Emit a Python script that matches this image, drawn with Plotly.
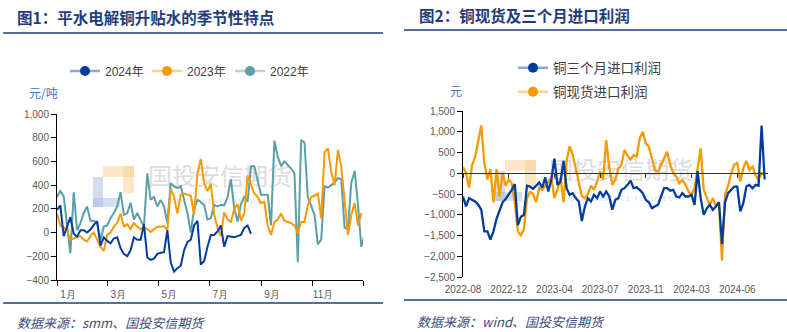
import plotly.graph_objects as go
import pandas as pd

W, H = 787, 332


def fx(x):
    return x / W


def fy(y):
    return 1 - y / H


# ---------------- Chart 1 data: 平水电解铜升贴水 (元/吨), sampled every 4 days from 1 Jan ----------------
season_start = "2000-01-01"
season_step_days = 4
month_tick_dates = ["2000-01-01", "2000-03-01", "2000-05-01", "2000-07-01",
                    "2000-09-01", "2000-11-01", "2001-01-01"]
month_tick_text = ["1月", "3月", "5月", "7月", "9月", "11月", ""]

s2024 = [190, 230, -30, 50, 130, -10, -35, 20, 20, 0,
         25, 65, 95, -110, -40, -70, -90, -50, -40, -130,
         -180, -200, -150, -40, -60, -60, 70, -210, -230, -220,
         -180, -170, -165, 20, -250, -330, -300, -280, -150, -80,
         -60, 60, 100, -270, -240, -120, -20, -20, 10, 60,
         -120, -30, -35, -40, -30, -20, 40, 60, -10]

s2023 = [160, 60, 40, 20, -60, -50, -40, -30, -60, -75,
         -30, 0, -60, -120, -155, -20, 0, 50, 80, 160,
         50, 70, 30, 80, 50, 30, 40, 30, 5, 30,
         50, 50, 55, 20, 370, 300, 160, 320, 330, 320,
         310, 150, 500, 620, 420, 350, 410, 150, 40, -30,
         170, 110, 90, 200, 240, 100, 160, 480, 400, 330,
         300, 250, 260, 60, -20, 90, 110, 160, 100, 90,
         80, 60, -5, 90, 90, 230, 300, 310, 330, 120,
         680, 710, 514, 400, 697, 556, 250, -20, 150, 250,
         60, 163]

s2022 = [300, 350, 305, 50, -175, 340, 20, 80, 165, 220,
         100, 100, 80, -60, 50, 60, 120, 165, 220, 340,
         150, 165, 250, 110, 165, 105, 50, 500, 276, 300,
         220, 276, 220, 80, 417, 390, 375, 390, 276, 165,
         0, 200, 276, 260, 230, 110, 120, 233, 220, 233,
         230, 300, 450, 200, 93, 240, 300, 260, 560, 560,
         440, 320, 320, 320, 60, 775, 640, 560, 600, 570,
         540, 500, -250, 780, 760, 300, 220, 150, -100, -60,
         390, 380, 400, 420, 460, 450, 40, 30, 420, 520,
         233, -120, -10]

# ---------------- Chart 2 data: 铜进口利润 (元), evenly spaced observations ----------------
import_tick_labels = ["2022-08", "2022-12", "2023-04", "2023-07", "2023-11", "2024-03", "2024-06"]
import_tick_every = 15

profit_3m = [-560, -800, -600, -640, -680, -760, -880, -1400, -1400, -1600,
             -1400, -1100, -880, -700, -620, -520, -400, -260, -1250, -1050,
             -1000, -300, -320, -380, -300, -220, -350, -100, -440, -150,
             350, -280, -200, 300, -360, -520, -480, -600, -680, -1150,
             -800, -600, -680, -520, -600, -440, -560, -440, -560, -880,
             -640, -600, -400, -360, -280, -180, -360, -340, -400, -480,
             -640, -700, -840, -800, -760, -560, -360, -360, -420, -400,
             -560, -580, -480, -560, -560, -520, -760, 50, -600, -1000,
             -850, -760, -880, -800, -700, -1700, -700, -480, -400, -320,
             -320, -920, -720, -320, -280, -360, -280, -300, 1150, -150]

profit_spot = [150, 0, -350, 200, 400, 750, 1150, 250, -150, 100,
               -700, 100, -550, 0, -300, -150, -240, -700, -1400, -1500,
               -1350, -600, -450, -500, -700, -350, -400, -300, -200, -100,
               -600, -400, -100, -700, 300, 650, 450, 100, -200, -550,
               -600, -500, -300, -400, -200, 40, -150, 800, 150, -280,
               -150, 120, 200, 560, 420, 330, 440, 400, 840, 1000,
               720, 640, 360, 80, 40, 200, 360, 520, 200, 0,
               -80, -240, -160, -280, -440, -520, -360, 100, 600, -400,
               -600, -760, -600, -800, -700, -2100, -520, -300, 0, 200,
               250, -200, 120, 300, 80, 160, -40, -160, 0, -40]

# ---------------- styling ----------------
C24, C23, C22 = "#003D9C", "#F59B00", "#5C9FA6"
L24, L23, L22 = "rgba(0,61,156,0.45)", "rgba(245,155,0,0.45)", "rgba(92,159,166,0.45)"
NAVY = "#1F3C7A"
TICK_FONT = dict(family="Liberation Sans, Arial, sans-serif", size=10, color="#595959")
CJK = "Noto Sans CJK SC"


def season_dates(n):
    return pd.date_range(season_start, periods=n, freq=f"{season_step_days}D")


fig = go.Figure()

# chart 1 lines
for vals, col in [(s2022, C22), (s2023, C23), (s2024, C24)]:
    fig.add_trace(go.Scatter(x=season_dates(len(vals)), y=vals, mode="lines",
                             line=dict(color=col, width=2), showlegend=False,
                             hoverinfo="skip", xaxis="x", yaxis="y"))

# chart 2 lines
idx = list(range(len(profit_3m)))
fig.add_trace(go.Scatter(x=idx, y=profit_spot, mode="lines", line=dict(color=C23, width=2.3),
                         showlegend=False, xaxis="x2", yaxis="y2"))
fig.add_trace(go.Scatter(x=idx, y=profit_3m, mode="lines", line=dict(color=C24, width=2.3),
                         showlegend=False, xaxis="x2", yaxis="y2"))
fig.add_trace(go.Scatter(x=[None], y=[None], showlegend=False, xaxis="x3", yaxis="y2"))

# legend entries (one legend per entry for exact placement)
entries = [
    ("2024年", C24, L24, "legend", "x", "y"),
    ("2023年", C23, L23, "legend2", "x", "y"),
    ("2022年", C22, L22, "legend3", "x", "y"),
    ("铜三个月进口利润", C24, L24, "legend4", "x2", "y2"),
    ("铜现货进口利润", C23, L23, "legend5", "x2", "y2"),
]
for name, col, light, lg, xa, ya in entries:
    fig.add_trace(go.Scatter(x=[None], y=[None], mode="lines+markers", name=name,
                             line=dict(color=light, width=2.5),
                             marker=dict(color=col, size=10),
                             legend=lg, xaxis=xa, yaxis=ya))


def leg(xp, yp, size):
    return dict(x=fx(xp), y=fy(yp), xanchor="left", yanchor="middle",
                bgcolor="rgba(0,0,0,0)", borderwidth=0,
                font=dict(family=f"Liberation Sans, {CJK}", size=size, color="#404040"))


zero_pos = fy(277) + (2500 / 4000) * (fy(111) - fy(277))
import_tick_vals = [i * import_tick_every for i in range(len(import_tick_labels))]

# background shapes: rules, watermark logos
shapes = []
for x0, x1, y in [(3, 383, 33), (404, 787, 30), (3, 383, 303), (404, 787, 300)]:
    shapes.append(dict(type="line", xref="paper", yref="paper", x0=fx(x0), x1=fx(x1),
                       y0=fy(y), y1=fy(y), line=dict(color=NAVY, width=1.5)))


def logo(ox, oy):
    blue = "rgba(160,180,222,0.45)"
    orange = "rgba(250,205,150,0.5)"
    rects = [(ox, oy + 11, ox + 10, oy + 41, blue), (ox, oy + 32, ox + 27, oy + 41, blue),
             (ox + 10, oy, ox + 41, oy + 11, orange), (ox + 30, oy, ox + 41, oy + 27, orange)]
    out = []
    for a, b, c, d, col in rects:
        out.append(dict(type="rect", xref="paper", yref="paper", x0=fx(a), x1=fx(c),
                        y0=fy(d), y1=fy(b), fillcolor=col, line=dict(width=0), layer="below"))
    return out


shapes += logo(93, 166) + logo(495, 160)


def wm_text(cx, cy, text, size, w=160, h=26):
    return dict(type="rect", xref="paper", yref="paper", x0=fx(cx - w / 2), x1=fx(cx + w / 2),
                y0=fy(cy + h / 2), y1=fy(cy - h / 2), line=dict(width=0),
                fillcolor="rgba(0,0,0,0)", layer="below",
                label=dict(text=text, font=dict(family=CJK, size=size, color="#dcdcdc"),
                           textposition="middle center"))


shapes += [wm_text(220, 178, "国投安信期货", 24), wm_text(220, 202, "S D I C   E S S E N C E   F U T U R E S", 6.5, h=10),
           wm_text(621, 172, "国投安信期货", 24), wm_text(621, 199, "S D I C   E S S E N C E   F U T U R E S", 6.5, h=10)]

annotations = [
    dict(text="<b>图1：平水电解铜升贴水的季节性特点</b>", x=fx(15), y=fy(17), xanchor="left", yanchor="middle",
         font=dict(family=CJK, size=15.5, color=NAVY)),
    dict(text="<b>图2：铜现货及三个月进口利润</b>", x=fx(417), y=fy(15), xanchor="left", yanchor="middle",
         font=dict(family=CJK, size=15.5, color=NAVY)),
    dict(text="元/吨", x=fx(27), y=fy(93), xanchor="left", yanchor="middle",
         font=dict(family=CJK, size=12, color="#4472C4")),
    dict(text="元", x=fx(456), y=fy(90), xanchor="center", yanchor="middle",
         font=dict(family=CJK, size=12, color="#4472C4")),
    dict(text="<i>数据来源：smm、国投安信期货</i>", x=fx(15), y=fy(322), xanchor="left", yanchor="middle",
         font=dict(family=CJK, size=13, color="#3D4B7C")),
    dict(text="<i>数据来源：wind、国投安信期货</i>", x=fx(415), y=fy(321), xanchor="left", yanchor="middle",
         font=dict(family=CJK, size=13, color="#3D4B7C")),
]
for a in annotations:
    a.update(xref="paper", yref="paper", showarrow=False)

fig.update_layout(
    width=W, height=H, margin=dict(l=0, r=0, t=0, b=0, autoexpand=False),
    paper_bgcolor="white", plot_bgcolor="rgba(0,0,0,0)",
    hovermode=False,
    xaxis=dict(domain=[fx(57), fx(363)], type="date", range=["2000-01-01", "2001-01-01"],
               tickvals=month_tick_dates, ticktext=month_tick_text, ticks="outside", ticklen=5,
               tickcolor="#000", showline=True, linecolor="#000", linewidth=1, showgrid=False,
               zeroline=False, tickfont=TICK_FONT, ticklabelshift=11, anchor="y",
               automargin=False),
    yaxis=dict(domain=[fy(280), fy(114)], range=[-400, 1000], dtick=200, tickformat=",",
               ticks="outside", ticklen=5, tickcolor="#000", showline=True, linecolor="#000",
               linewidth=1, showgrid=False, zeroline=False, tickfont=TICK_FONT, anchor="x",
               automargin=False),
    xaxis2=dict(domain=[fx(463), fx(767.7)], range=[0, 100], tickvals=import_tick_vals,
                ticktext=import_tick_labels, ticks="", showline=False, showgrid=False,
                zeroline=False, tickfont=TICK_FONT, anchor="y2", ticklabelstandoff=5,
                automargin=False),
    yaxis2=dict(domain=[fy(277), fy(111)], range=[-2500, 1500], dtick=500, tickformat=",",
                ticks="outside", ticklen=5, tickcolor="#000", showline=True, linecolor="#000",
                linewidth=1, showgrid=False, zeroline=False, tickfont=TICK_FONT, anchor="x2",
                automargin=False),
    xaxis3=dict(overlaying="x2", anchor="free", position=zero_pos, range=[0, 100],
                tickvals=import_tick_vals, showticklabels=False, ticks="outside", ticklen=4,
                tickcolor="#333", showline=True, linecolor="#333", linewidth=1.2,
                showgrid=False, zeroline=False, automargin=False),
    legend=leg(65, 71, 12), legend2=leg(147, 71, 12), legend3=leg(230, 71, 12),
    legend4=leg(513, 68, 13.5), legend5=leg(513, 92, 13.5),
    shapes=shapes, annotations=annotations,
)

fig.write_html("out.html")
